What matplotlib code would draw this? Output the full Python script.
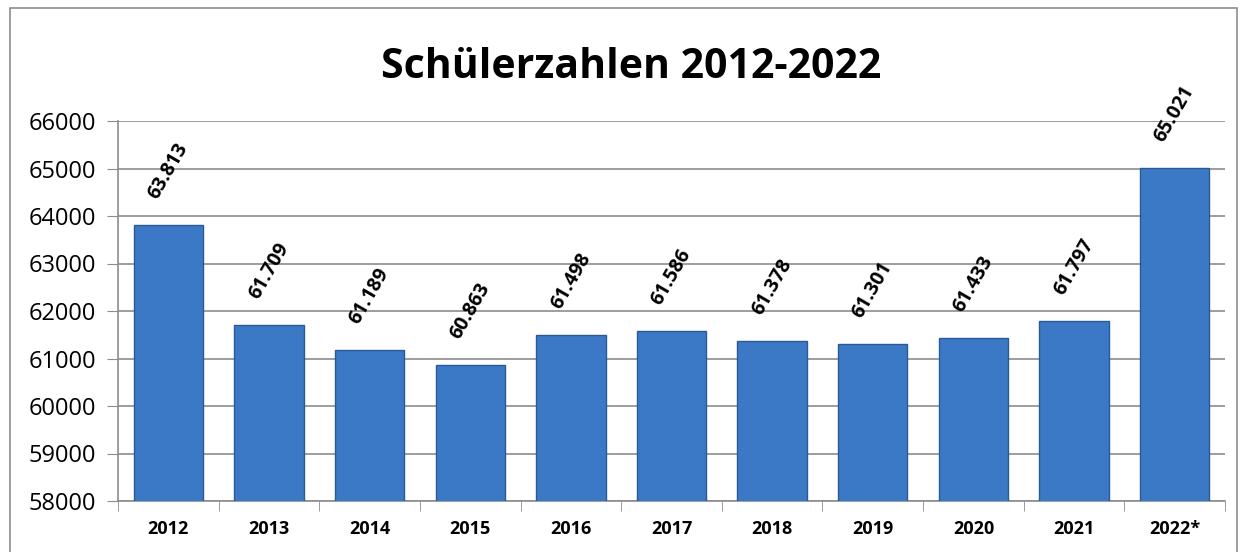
import matplotlib.pyplot as plt
from matplotlib.patches import Rectangle
from matplotlib.ticker import FixedLocator

years = ['2012', '2013', '2014', '2015', '2016', '2017', '2018', '2019', '2020', '2021', '2022*']
students = [63813, 61709, 61189, 60863, 61498, 61586, 61378, 61301, 61433, 61797, 65021]

plt.rcParams['font.family'] = ['Open Sans', 'DejaVu Sans']

fig = plt.figure(figsize=(12.45, 5.52), dpi=100)
ax = fig.add_axes([118 / 1245, 51 / 552, 1107 / 1245, 380 / 552])

# outer chart border
fig.patches.append(Rectangle((10 / 1245, -0.02), 1227 / 1245, 1.02 - 8 / 552,
                             transform=fig.transFigure, fill=False,
                             edgecolor='#8c8c8c', linewidth=1.2))

x = range(len(years))
ax.bar(x, students, width=0.69, color='#3b78c6', edgecolor='#2a5a94',
       linewidth=1.0, zorder=3)

for i, v in enumerate(students):
    label = f'{v:,}'.replace(',', '.')
    ax.annotate(label, (i, v), xytext=(0, 16), textcoords='offset points',
                ha='center', va='bottom', rotation=60, fontsize=14,
                fontweight='bold')

ax.set_ylim(58000, 66000)
ax.set_xlim(-0.5, len(years) - 0.5)
ax.set_yticks(range(58000, 66001, 1000))
ax.tick_params(axis='y', labelsize=17, length=8, color='#8c8c8c', pad=8)
ax.set_xticks(list(x))
ax.set_xticklabels(years, fontsize=13, fontweight='bold')
ax.tick_params(axis='x', length=0, pad=14)
ax.xaxis.set_minor_locator(FixedLocator([i - 0.5 for i in range(len(years) + 1)]))
ax.tick_params(axis='x', which='minor', length=7, color='#8c8c8c')

ax.grid(axis='y', color='#8c8c8c', linewidth=1.2, zorder=0)
for s in ['top', 'right']:
    ax.spines[s].set_visible(False)
ax.spines['left'].set_color('#8c8c8c')
ax.spines['bottom'].set_color('#8c8c8c')
ax.spines['left'].set_linewidth(1.2)
ax.spines['bottom'].set_linewidth(1.2)

fig.text(631 / 1245, 1 - 68 / 552, 'Schülerzahlen 2012-2022', ha='center', va='center',
         fontsize=29.5, fontweight='bold')

fig.savefig('out.png', dpi=100)
